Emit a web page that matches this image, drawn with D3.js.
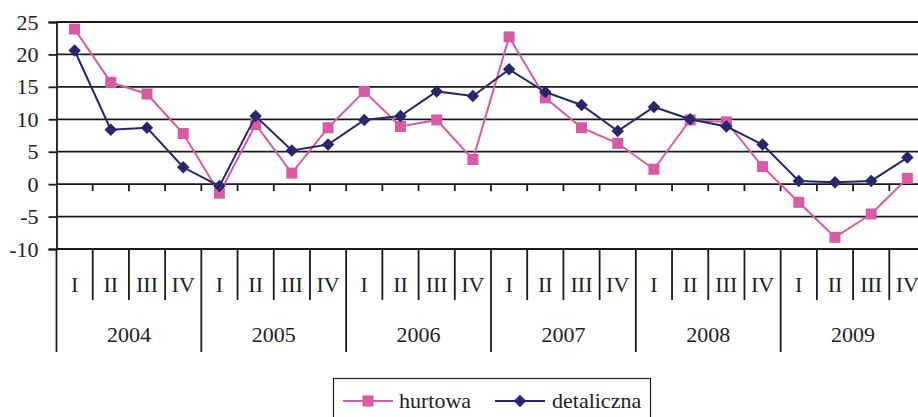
<!DOCTYPE html>
<html>
<head>
<meta charset="utf-8">
<script src="https://cdn.jsdelivr.net/npm/d3@7"></script>
<style>
    body { margin: 0; background: #fff; }
    svg text { font-family: "Liberation Serif", "Times New Roman", "DejaVu Serif", serif !important; }
</style>
</head>
<body>
<div id="chart"></div>
<script>
let years = ['2004', '2005', '2006', '2007', '2008', '2009'],
    quarters = ['I', 'II', 'III', 'IV'],
    yTicks = [-10, -5, 0, 5, 10, 15, 20, 25],
    hurtowa = [23.9, 15.7, 13.9, 7.8, -1.4, 9.2, 1.7, 8.7, 14.3, 8.9, 9.9, 3.8,
        22.7, 13.3, 8.7, 6.3, 2.3, 9.9, 9.6, 2.7, -2.8, -8.2, -4.6, 0.9],
    detaliczna = [20.6, 8.4, 8.7, 2.6, -0.3, 10.5, 5.2, 6.1, 9.9, 10.5, 14.3, 13.6,
        17.7, 14.2, 12.2, 8.2, 11.9, 10.0, 8.9, 6.1, 0.5, 0.3, 0.5, 4.1],
    seriesNames = ['hurtowa', 'detaliczna'],
    colors = ['#d95aa4', '#27276f'];

let cats = [];
years.forEach(y => quarters.forEach(q => cats.push(y + '-' + q)));

let width = 918, height = 417,
    plotLeft = 56.5, plotRight = 925.5, plotTop = 22, plotBottom = 249,
    fontSize = '22px';

let svg = d3.select('#chart').append('svg')
    .attr('width', width)
    .attr('height', height)
    .style('display', 'block');

let x = d3.scaleBand().domain(cats).range([plotLeft, plotRight]).paddingInner(0).paddingOuter(0),
    y = d3.scaleLinear().domain([-10, 25]).range([plotBottom, plotTop]),
    yearScale = d3.scaleBand().domain(years).range([plotLeft, plotRight]);

// gridlines
svg.append('g').selectAll('line')
    .data(yTicks)
    .enter().append('line')
    .attr('x1', plotLeft)
    .attr('x2', width)
    .attr('y1', d => y(d))
    .attr('y2', d => y(d))
    .style('stroke', '#1a1a1a')
    .style('stroke-width', 1.8);

// y axis (plain hyphen for negatives, like the original)
let yAxis = d3.axisLeft(y).tickValues(yTicks).tickSize(8).tickPadding(10)
    .tickFormat(d => String(d));
let gy = svg.append('g')
    .attr('transform', 'translate(' + plotLeft + ',0)')
    .call(yAxis)
    .attr('font-family', null)
    .attr('font-size', null);
gy.select('.domain').style('stroke', '#1a1a1a').style('stroke-width', 1.8);
gy.selectAll('.tick line').style('stroke', '#1a1a1a').style('stroke-width', 1.8);
gy.selectAll('.tick text')
    .style('font-size', fontSize)
    .style('fill', '#222');

// small ticks on zero line
let bounds = cats.map(c => x(c)).concat([plotRight]);
svg.append('g').selectAll('line')
    .data(bounds.slice(1))
    .enter().append('line')
    .attr('x1', d => d).attr('x2', d => d)
    .attr('y1', y(0)).attr('y2', y(0) + 7)
    .style('stroke', '#1a1a1a')
    .style('stroke-width', 1.8);

// category separators
svg.append('g').selectAll('line')
    .data(bounds)
    .enter().append('line')
    .attr('x1', d => d).attr('x2', d => d)
    .attr('y1', plotBottom)
    .attr('y2', (d, i) => i % 4 === 0 ? 352 : 300)
    .style('stroke', '#1a1a1a')
    .style('stroke-width', 1.8);

svg.append('g').selectAll('text')
    .data(cats)
    .enter().append('text')
    .attr('x', d => x(d) + x.bandwidth() / 2)
    .attr('y', 292)
    .attr('text-anchor', 'middle')
    .style('font-size', fontSize)
    .style('fill', '#222')
    .text(d => d.split('-')[1]);

svg.append('g').selectAll('text')
    .data(years)
    .enter().append('text')
    .attr('x', d => yearScale(d) + yearScale.bandwidth() / 2)
    .attr('y', 342)
    .attr('text-anchor', 'middle')
    .style('font-size', fontSize)
    .style('fill', '#222')
    .text(d => d);

// series
let line = d3.line()
    .x((d, i) => x(cats[i]) + x.bandwidth() / 2)
    .y(d => y(d));

let sqSym = d3.symbol().type(d3.symbolSquare).size(121),
    diaSym = d3.symbol().type(d3.symbolSquare).size(78);

function markerTransform(px, py, s) {
    return 'translate(' + px + ',' + py + ')' + (s === 1 ? ' rotate(45)' : '');
}

[hurtowa, detaliczna].forEach((data, s) => {
    svg.append('path')
        .datum(data)
        .style('fill', 'none')
        .style('stroke', colors[s])
        .style('stroke-width', 2)
        .attr('d', line);
    svg.append('g').selectAll('path')
        .data(data)
        .enter().append('path')
        .attr('transform', (d, i) => markerTransform(x(cats[i]) + x.bandwidth() / 2, y(d), s))
        .attr('d', s === 0 ? sqSym() : diaSym())
        .style('fill', colors[s]);
});

// legend
let lg = svg.append('g');
lg.append('rect')
    .attr('x', 333.5).attr('y', 378.5)
    .attr('width', 317).attr('height', 60)
    .style('fill', 'none')
    .style('stroke', '#222')
    .style('stroke-width', 1.2);

let legendItems = [{x1: 343, text: 399}, {x1: 495, text: 552}];
legendItems.forEach((it, s) => {
    lg.append('line')
        .attr('x1', it.x1).attr('x2', it.x1 + 50)
        .attr('y1', 401).attr('y2', 401)
        .style('stroke', colors[s])
        .style('stroke-width', 2);
    lg.append('path')
        .attr('transform', markerTransform(it.x1 + 25, 401, s))
        .attr('d', s === 0 ? sqSym() : diaSym())
        .style('fill', colors[s]);
    lg.append('text')
        .attr('x', it.text)
        .attr('y', 408)
        .style('font-size', fontSize)
        .style('fill', '#222')
        .text(seriesNames[s]);
});
</script>
</body>
</html>
